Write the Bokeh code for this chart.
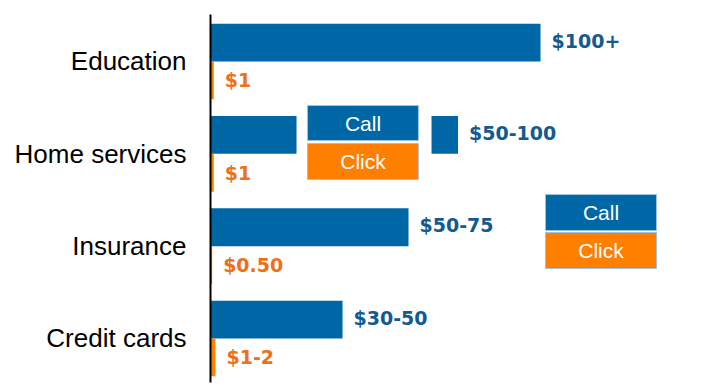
from bokeh.plotting import figure
from bokeh.models import ColumnDataSource, FixedTicker
from bokeh.core.properties import value
from bokeh.embed import file_html
from bokeh.resources import INLINE

# ---- data ----
categories = ["Credit cards", "Insurance", "Home services", "Education"]
call_values = [40, 60, 75, 100]
click_values = [1.5, 0.5, 1, 1]
call_labels = ["$30-50", "$50-75", "$50-100", "$100+"]
click_labels = ["$1-2", "$0.50", "$1", "$1"]
legend_names = ["Call", "Click"]

# ---- styling ----
BLUE = "#0067A6"
BLUE_TXT = "#135A90"
ORANGE = "#FF7F00"
ORANGE_TXT = "#EC7119"
BAR_H = 0.41

pos = list(range(len(categories)))
call_y = [i + BAR_H / 2 for i in pos]
click_y = [i - BAR_H / 2 for i in pos]

call_src = ColumnDataSource(dict(y=call_y, v=call_values, lab=call_labels))
click_src = ColumnDataSource(dict(y=click_y, v=click_values, lab=click_labels))

p = figure(width=710, height=388, output_backend="svg", toolbar_location=None,
           x_range=(0, 151.5), y_range=(-0.4766, 3.509),
           x_axis_location=None, min_border_left=210, min_border_top=14,
           min_border_bottom=6, min_border_right=0)
p.outline_line_color = None
p.grid.visible = False
p.background_fill_color = "white"
p.border_fill_color = "white"

p.hbar(y="y", right="v", left=0, height=BAR_H, source=call_src,
       fill_color=BLUE, line_color=None)
p.hbar(y="y", right="v", left=0, height=BAR_H, source=click_src,
       fill_color=ORANGE, line_color=None)

p.text(x="v", y="y", text="lab", source=call_src, x_offset=11, y_offset=-2,
       text_baseline="middle", text_align="left", text_color=BLUE_TXT,
       text_font=value("DejaVu Sans"), text_font_style="bold",
       text_font_size="19px")
p.text(x="v", y="y", text="lab", source=click_src, x_offset=11,
       text_baseline="middle", text_align="left", text_color=ORANGE_TXT,
       text_font=value("DejaVu Sans"), text_font_style="bold",
       text_font_size="19px")

# legend boxes (middle one interrupts the Home services bar)
p.quad(left=[26.06], right=[66.97], bottom=[1.95], top=[2.46],
       fill_color="white", line_color=None)

def legend_box(x0, x1, y_call, y_click):
    p.quad(left=[x0, x0], right=[x1, x1],
           bottom=[y_call[0], y_click[0]], top=[y_call[1], y_click[1]],
           fill_color=[BLUE, ORANGE], line_color="#9fc3dd", line_width=1)
    xm = (x0 + x1) / 2
    p.text(x=[xm, xm], y=[sum(y_call) / 2, sum(y_click) / 2], text=legend_names,
           text_align="center", text_baseline="middle", text_color="white",
           text_font=value("Liberation Sans"), text_font_size="21px")

legend_box(29.4, 63.0, (2.144, 2.523), (1.722, 2.112))
legend_box(101.5, 135.15, (1.169, 1.559), (0.758, 1.148))

ax = p.yaxis[0]
ax.ticker = FixedTicker(ticks=pos)
ax.major_label_overrides = {i: c for i, c in zip(pos, categories)}
ax.major_tick_line_color = None
ax.minor_tick_line_color = None
ax.axis_line_color = "black"
ax.axis_line_width = 2
ax.major_label_standoff = 18
ax.major_label_text_font = "Liberation Sans"
ax.major_label_text_font_size = "26px"
ax.major_label_text_color = "black"

open("out.html", "w").write(file_html(p, INLINE))
